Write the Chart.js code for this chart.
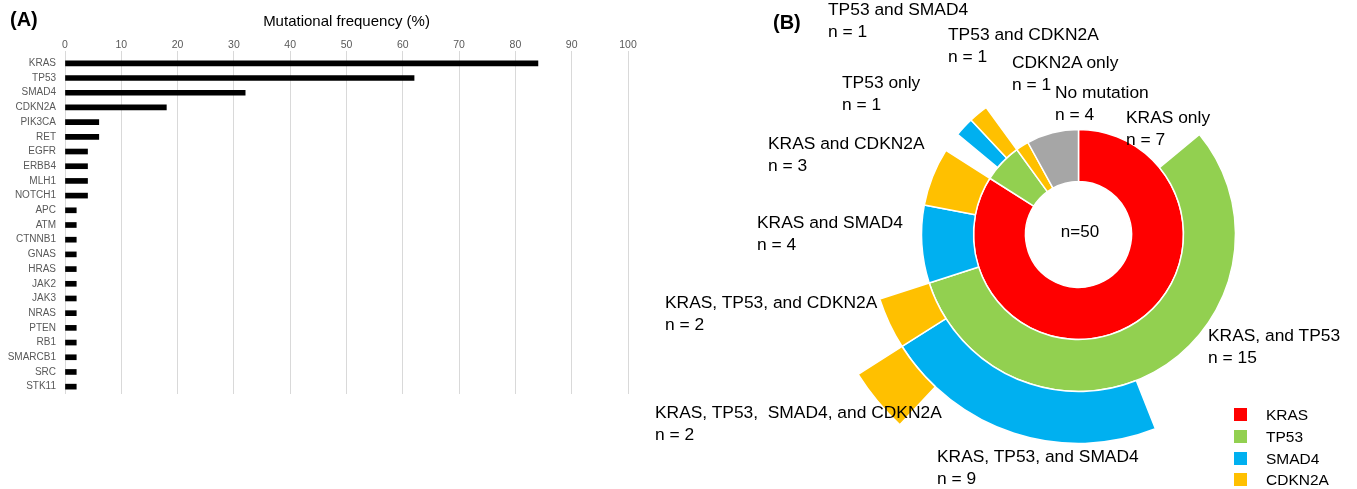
<!DOCTYPE html>
<html>
<head>
<meta charset="utf-8">
<title>Mutational landscape</title>
<script src="https://cdn.jsdelivr.net/npm/chart.js@4.4.1/dist/chart.umd.min.js"></script>
<style>
  html, body { margin: 0; padding: 0; background: #ffffff; overflow: hidden; }
  body { width: 1357px; height: 489px; position: relative; font-family: "Liberation Sans", Arial, sans-serif; color: #000; }
  canvas { position: absolute; top: 0; }
  #barCanvas { left: 0; }
  #sunCanvas { left: 797px; }
  .panel-tag { position: absolute; font-weight: bold; font-size: 20px; line-height: 24px; }
  .seg-label { position: absolute; font-size: 17.4px; line-height: 21.7px; white-space: pre; }
  .center-label { position: absolute; font-size: 17px; line-height: 20px; transform: translate(-50%, -50%); white-space: pre; }
  .legend-row { position: absolute; left: 1234px; height: 14px; font-size: 15.5px; }
  .legend-row .swatch { position: absolute; left: 0; top: 0; width: 13px; height: 13px; }
  .legend-row .name { position: absolute; left: 32px; top: -2px; line-height: 18px; white-space: pre; }
</style>
</head>
<body>
<canvas id="barCanvas" width="660" height="489" style="width:660px;height:489px"></canvas>
<canvas id="sunCanvas" width="560" height="489" style="width:560px;height:489px"></canvas>
<div class="panel-tag" style="left:10px;top:7px">(A)</div>
<div class="panel-tag" style="left:773px;top:10px">(B)</div>

<script>
// ---- Panel A: gene mutation frequencies (% of 50 tumours) ----
const genes = ['KRAS', 'TP53', 'SMAD4', 'CDKN2A', 'PIK3CA', 'RET', 'EGFR', 'ERBB4', 'MLH1', 'NOTCH1',
               'APC', 'ATM', 'CTNNB1', 'GNAS', 'HRAS', 'JAK2', 'JAK3', 'NRAS', 'PTEN', 'RB1',
               'SMARCB1', 'SRC', 'STK11'];
const frequency = [84, 62, 32, 18, 6, 6, 4, 4, 4, 4,
                   2, 2, 2, 2, 2, 2, 2, 2, 2, 2,
                   2, 2, 2];
const frequencyTicks = [0, 10, 20, 30, 40, 50, 60, 70, 80, 90, 100];

// ---- Panel B: co-mutation groups, in clockwise order ----
const groupNames = ['KRAS only', 'KRAS, and TP53', 'KRAS, TP53, and SMAD4',
                    'KRAS, TP53,  SMAD4, and CDKN2A', 'KRAS, TP53, and CDKN2A',
                    'KRAS and SMAD4', 'KRAS and CDKN2A', 'TP53 only', 'TP53 and SMAD4',
                    'TP53 and CDKN2A', 'CDKN2A only', 'No mutation'];
const groupCounts = [7, 15, 9, 2, 2, 4, 3, 1, 1, 1, 1, 4];
const groupPaths = [['KRAS'], ['KRAS', 'TP53'], ['KRAS', 'TP53', 'SMAD4'],
                    ['KRAS', 'TP53', 'SMAD4', 'CDKN2A'], ['KRAS', 'TP53', 'CDKN2A'],
                    ['KRAS', 'SMAD4'], ['KRAS', 'CDKN2A'], ['TP53'], ['TP53', 'SMAD4'],
                    ['TP53', 'CDKN2A'], ['CDKN2A'], ['None']];
const legendGenes = ['KRAS', 'TP53', 'SMAD4', 'CDKN2A'];

// styling
const geneColors = { KRAS: '#FF0000', TP53: '#92D050', SMAD4: '#00B0F0', CDKN2A: '#FFC000', None: '#A6A6A6' };
// label placement (left, top) for each group, same order as groupNames
const labelPlacement = [[1126, 107], [1208, 325], [937, 446], [655, 402], [665, 292],
                        [757, 212], [768, 133], [842, 72], [828, -1], [948, 24],
                        [1012, 52], [1055, 82]];
const FONT = '"Liberation Sans", Arial, sans-serif';
Chart.defaults.font.family = FONT;

// ---------- Panel A ----------
new Chart(document.getElementById('barCanvas'), {
  type: 'bar',
  data: {
    labels: genes,
    datasets: [{ data: frequency, backgroundColor: '#000000', borderWidth: 0, barThickness: 5 }]
  },
  options: {
    indexAxis: 'y',
    responsive: false,
    animation: false,
    events: [],
    devicePixelRatio: 1,
    layout: { padding: { left: 0, right: 32, top: 0, bottom: 95 } },
    plugins: { legend: { display: false }, tooltip: { enabled: false } },
    scales: {
      x: {
        position: 'top',
        min: 0,
        max: 100,
        afterBuildTicks: s => { s.ticks = frequencyTicks.map(v => ({ value: v })); },
        afterFit: s => { s.height = 56; },
        ticks: { color: '#595959', font: { size: 10.5 }, padding: 0, maxRotation: 0 },
        grid: { color: '#d9d9d9', lineWidth: 1, tickLength: 5 },
        border: { display: false },
        title: {
          display: true,
          text: 'Mutational frequency (%)',
          color: '#000000',
          font: { size: 15 },
          padding: { top: 13, bottom: 0 }
        }
      },
      y: {
        afterFit: s => { s.width = 65; },
        grid: { display: false, drawTicks: false },
        border: { display: false },
        ticks: { color: '#595959', font: { size: 10 }, padding: 9, autoSkip: false }
      }
    }
  }
});

// ---------- Panel B: sunburst drawn as concentric doughnut rings ----------
const depth = Math.max(...groupPaths.map(p => p.length));

// merge neighbouring groups that share the same gene prefix at a given ring level
function ringSegments(level) {
  const segs = [];
  groupPaths.forEach((path, i) => {
    const has = path.length > level;
    const key = has ? path.slice(0, level + 1).join('>') : '';
    const last = segs[segs.length - 1];
    if (last && last.key === key) {
      last.value += groupCounts[i];
    } else {
      segs.push({ key, gene: has ? path[level] : null, value: groupCounts[i] });
    }
  });
  return segs;
}

const ringDatasets = [];
for (let level = depth - 1; level >= 0; level--) {   // outermost ring first
  const segs = ringSegments(level);
  ringDatasets.push({
    data: segs.map(s => s.value),
    backgroundColor: segs.map(s => s.gene ? geneColors[s.gene] : 'rgba(0,0,0,0)'),
    borderColor: '#ffffff',
    borderWidth: segs.map(s => s.gene ? 1.5 : 0),
    weight: 1,
    clip: false
  });
}

new Chart(document.getElementById('sunCanvas'), {
  type: 'doughnut',
  data: { labels: ringSegments(0).map(s => s.key), datasets: ringDatasets },
  options: {
    responsive: false,
    animation: false,
    events: [],
    devicePixelRatio: 1,
    radius: 261,
    cutout: '20.3%',
    rotation: 0,
    layout: { padding: { left: 3, right: 0, top: 0, bottom: 20 } },
    plugins: { legend: { display: false }, tooltip: { enabled: false } }
  }
});

// group labels
groupNames.forEach((name, i) => {
  const d = document.createElement('div');
  d.className = 'seg-label';
  d.style.left = labelPlacement[i][0] + 'px';
  d.style.top = labelPlacement[i][1] + 'px';
  d.textContent = name + '\nn = ' + groupCounts[i];
  document.body.appendChild(d);
});

// total in the centre
const total = groupCounts.reduce((a, b) => a + b, 0);
const centre = document.createElement('div');
centre.className = 'center-label';
centre.style.left = '1080px';
centre.style.top = '232px';
centre.textContent = 'n=' + total;
document.body.appendChild(centre);

// gene legend
legendGenes.forEach((g, i) => {
  const row = document.createElement('div');
  row.className = 'legend-row';
  row.style.top = (408 + i * 21.8) + 'px';
  const sw = document.createElement('div');
  sw.className = 'swatch';
  sw.style.background = geneColors[g];
  const nm = document.createElement('div');
  nm.className = 'name';
  nm.textContent = g;
  row.appendChild(sw);
  row.appendChild(nm);
  document.body.appendChild(row);
});
</script>
</body>
</html>
